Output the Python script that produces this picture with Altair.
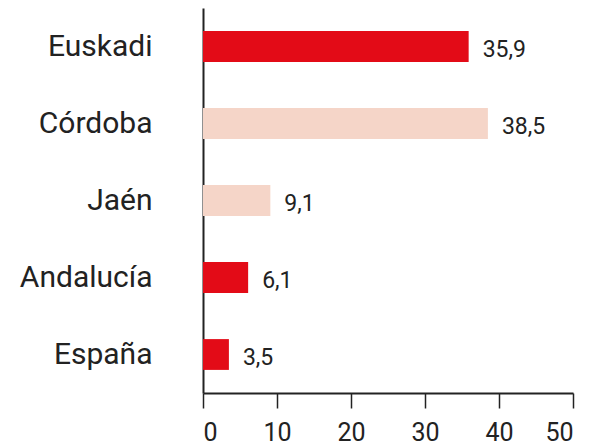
import altair as alt
import pandas as pd

categories = ["Euskadi", "Córdoba", "Jaén", "Andalucía", "España"]
values = [35.9, 38.5, 9.1, 6.1, 3.5]
groups = ["a", "b", "b", "a", "a"]

df = pd.DataFrame({
    "cat": categories,
    "val": values,
    "grp": groups,
    "lbl": [f"{v:.1f}".replace(".", ",") for v in values],
})

FONT = "Roboto"
DARK = "#222222"

base = alt.Chart(df).encode(
    y=alt.Y("cat:N", sort=categories, title=None,
            scale=alt.Scale(paddingInner=0.6, paddingOuter=0.3),
            axis=alt.Axis(domain=True, domainColor=DARK, domainWidth=2, ticks=False,
                          labelFont=FONT, labelFontSize=30, labelColor=DARK,
                          labelPadding=51)),
)

bars = base.mark_bar().encode(
    x=alt.X("val:Q", title=None, scale=alt.Scale(domain=[0, 50], nice=False),
            axis=alt.Axis(values=[0, 10, 20, 30, 40, 50], grid=False,
                          domainColor=DARK, domainWidth=2,
                          tickColor=DARK, tickWidth=1.5, tickSize=15,
                          labelFont=FONT, labelFontSize=25, labelColor=DARK,
                          labelPadding=12)),
    color=alt.Color("grp:N", legend=None,
                    scale=alt.Scale(domain=["a", "b"], range=["#e30b17", "#f5d5c8"])),
)

text = base.mark_text(align="left", baseline="middle", dx=14, dy=3,
                      font=FONT, fontSize=23, color=DARK).encode(
    x="val:Q", text="lbl:N")

chart = (bars + text).properties(
    width=370, height=385,
    autosize=alt.AutoSizeParams(type="none"),
    padding={"left": 195, "top": 0, "right": 21, "bottom": 52},
).configure_view(stroke=None)

chart.save("out.html", embed_options={"renderer": "svg", "actions": False})
